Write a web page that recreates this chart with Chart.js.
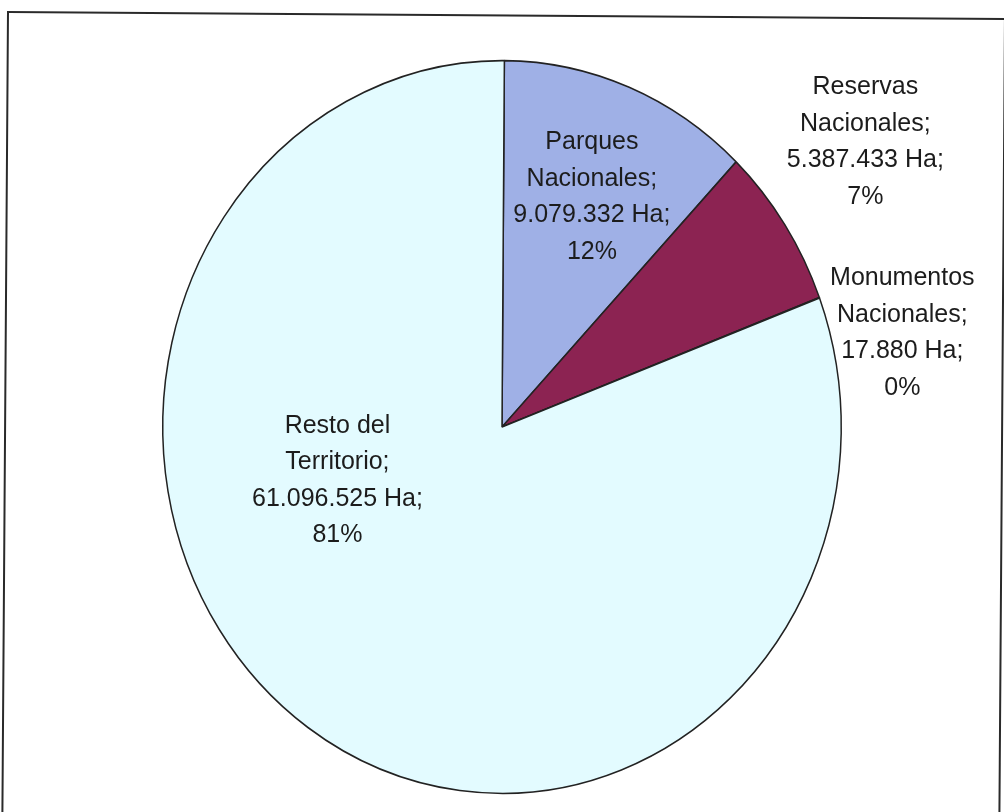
<!DOCTYPE html>
<html>
<head>
<meta charset="utf-8">
<script src="https://cdn.jsdelivr.net/npm/chart.js@4.4.1/dist/chart.umd.min.js"></script>
<style>
  html, body { margin: 0; padding: 0; background: #fff; overflow: hidden; }
  #wrap { position: relative; width: 1004px; height: 812px; }
  #frame {
    position: absolute; left: 7px; top: 11px; width: 995px; height: 900px;
    border: 2px solid #2a2a2a; transform-origin: 0 0; transform: rotate(0.4deg);
  }
  canvas { position: absolute; left: 0; top: 0; }
</style>
</head>
<body>
<div id="wrap">
  <div id="frame"></div>
  <canvas id="areasChart" width="1004" height="812"></canvas>
</div>
<script>
// Superficie protegida por categoría (hectáreas)
const categories = [
    ['Parques', 'Nacionales;'],
    ['Reservas', 'Nacionales;'],
    ['Monumentos', 'Nacionales;'],
    ['Resto del', 'Territorio;']
];
const hectares = [9079332, 5387433, 17880, 61096525];
const sliceColors = ['#9fb0e6', '#8c2352', '#e3fbff', '#e3fbff'];

// label block centres, in radius units from the pie centre
const labelOffsets = [[0.265, -0.628], [1.071, -0.777], [1.18, -0.256], [-0.485, 0.147]];
const stretchY = 1.08;

const fmt = v => String(v).replace(/\B(?=(\d{3})+(?!\d))/g, '.');
const total = hectares.reduce((a, b) => a + b, 0);

const ellipsePlugin = {
    id: 'ellipse',
    beforeDatasetsDraw(chart) {
        const arc = chart.getDatasetMeta(0).data[0];
        const ctx = chart.ctx;
        ctx.save();
        ctx.translate(arc.x, arc.y);
        ctx.scale(1, stretchY);
        ctx.translate(-arc.x, -arc.y);
    },
    afterDatasetsDraw(chart) {
        chart.ctx.restore();
    }
};

const labelPlugin = {
    id: 'sliceLabels',
    afterDraw(chart) {
        const ctx = chart.ctx;
        const meta = chart.getDatasetMeta(0);
        ctx.save();
        ctx.font = '25px "Liberation Sans", Arial, sans-serif';
        ctx.fillStyle = '#1c1c1c';
        ctx.textAlign = 'center';
        ctx.textBaseline = 'middle';
        meta.data.forEach((arc, i) => {
            const r = arc.outerRadius;
            const cx = arc.x + labelOffsets[i][0] * r;
            const cy = arc.y + labelOffsets[i][1] * r * stretchY;
            const pct = Math.round(hectares[i] / total * 100);
            const lines = [...categories[i], fmt(hectares[i]) + ' Ha;', pct + '%'];
            const lh = 36.5;
            lines.forEach((t, k) => {
                ctx.fillText(t, cx, cy + (k - (lines.length - 1) / 2) * lh);
            });
        });
        ctx.restore();
    }
};

document.addEventListener('DOMContentLoaded', () => {
    const ctx = document.getElementById('areasChart').getContext('2d');
    new Chart(ctx, {
        type: 'pie',
        data: {
            labels: categories,
            datasets: [{
                data: hectares,
                backgroundColor: sliceColors,
                borderColor: '#222',
                borderWidth: 1.5
            }]
        },
        options: {
            responsive: false,
            animation: false,
            rotation: 0.4,
            layout: { padding: { left: 162, right: 162, top: 87, bottom: 45 } },
            plugins: {
                legend: { display: false },
                tooltip: { enabled: false }
            }
        },
        plugins: [ellipsePlugin, labelPlugin]
    });
});
</script>
</body>
</html>
